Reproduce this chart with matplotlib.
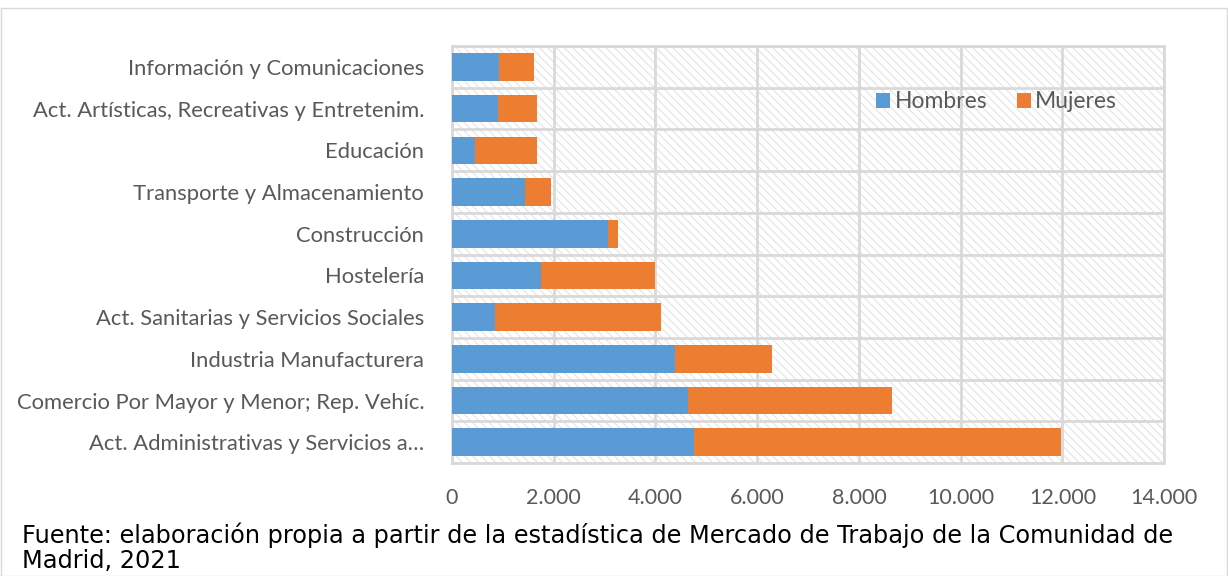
import matplotlib.pyplot as plt
from matplotlib.patches import Rectangle
from matplotlib.ticker import FuncFormatter, MultipleLocator

# sectores (de abajo arriba)
sectores = ["Act. Administrativas y Servicios a…",
            "Comercio Por Mayor y Menor; Rep. Vehíc.",
            "Industria Manufacturera",
            "Act. Sanitarias y Servicios Sociales",
            "Hostelería",
            "Construcción",
            "Transporte y Almacenamiento",
            "Educación",
            "Act. Artísticas, Recreativas y Entretenim.",
            "Información y Comunicaciones"]
hombres = [4760, 4640, 4390, 850, 1750, 3070, 1440, 460, 900, 930]
mujeres = [7220, 4010, 1900, 3260, 2240, 200, 510, 1210, 770, 680]

azul = "#5b9bd5"
naranja = "#ed7d31"
gris_txt = "#595959"
gris_lin = "#d9d9d9"

plt.rcParams['font.family'] = ['Lato', 'DejaVu Sans']
plt.rcParams['hatch.linewidth'] = 0.8

fig = plt.figure(figsize=(12.28, 5.76), dpi=100)
fig.patches.append(Rectangle((0.0005, 0.0005), 0.999, 0.985, transform=fig.transFigure,
                             fill=False, edgecolor=gris_lin, lw=1))
ax = fig.add_axes([0.368, 0.196, 0.580, 0.724])

# fondo rayado
ax.add_patch(Rectangle((0, 0), 1, 1, transform=ax.transAxes, facecolor="white",
                       hatch="\\\\\\\\", edgecolor="#e3e3e3", lw=0, zorder=0))

y = list(range(len(sectores)))
ax.barh(y, hombres, height=0.66, color=azul, label="Hombres", zorder=3)
ax.barh(y, mujeres, left=hombres, height=0.66, color=naranja, label="Mujeres", zorder=3)

ax.set_xlim(0, 14000)
ax.set_ylim(-0.5, len(sectores) - 0.5)
ax.xaxis.set_major_locator(MultipleLocator(2000))
ax.xaxis.set_major_formatter(FuncFormatter(lambda v, p: f"{int(v):,}".replace(",", ".")))
ax.set_yticks(y)
ax.set_yticklabels(sectores)
ax.set_yticks([i + 0.5 for i in range(-1, len(sectores))], minor=True)
ax.grid(axis="x", which="major", color=gris_lin, lw=2, zorder=1)
ax.grid(axis="y", which="minor", color=gris_lin, lw=2, zorder=1)
ax.tick_params(which="both", length=0)
ax.tick_params(axis="y", labelsize=15.8, labelcolor=gris_txt, pad=20)
ax.tick_params(axis="x", labelsize=15.5, labelcolor=gris_txt, pad=18)
for s in ax.spines.values():
    s.set_color(gris_lin)
    s.set_linewidth(2)

ax.legend(loc="center", bbox_to_anchor=(0.765, 0.866), ncol=2, frameon=False,
          fontsize=16.5, labelcolor=gris_txt, handlelength=0.6, handleheight=0.6,
          handletextpad=0.2, columnspacing=1.3)

fig.text(0.018, 0.093, "Fuente: elaboración propia a partir de la estadística de Mercado de Trabajo de la Comunidad de\nMadrid, 2021",
         fontsize=17.3, family="DejaVu Sans", color="black", ha="left", va="top", linespacing=1.08)

fig.savefig("out.png", dpi=100)
